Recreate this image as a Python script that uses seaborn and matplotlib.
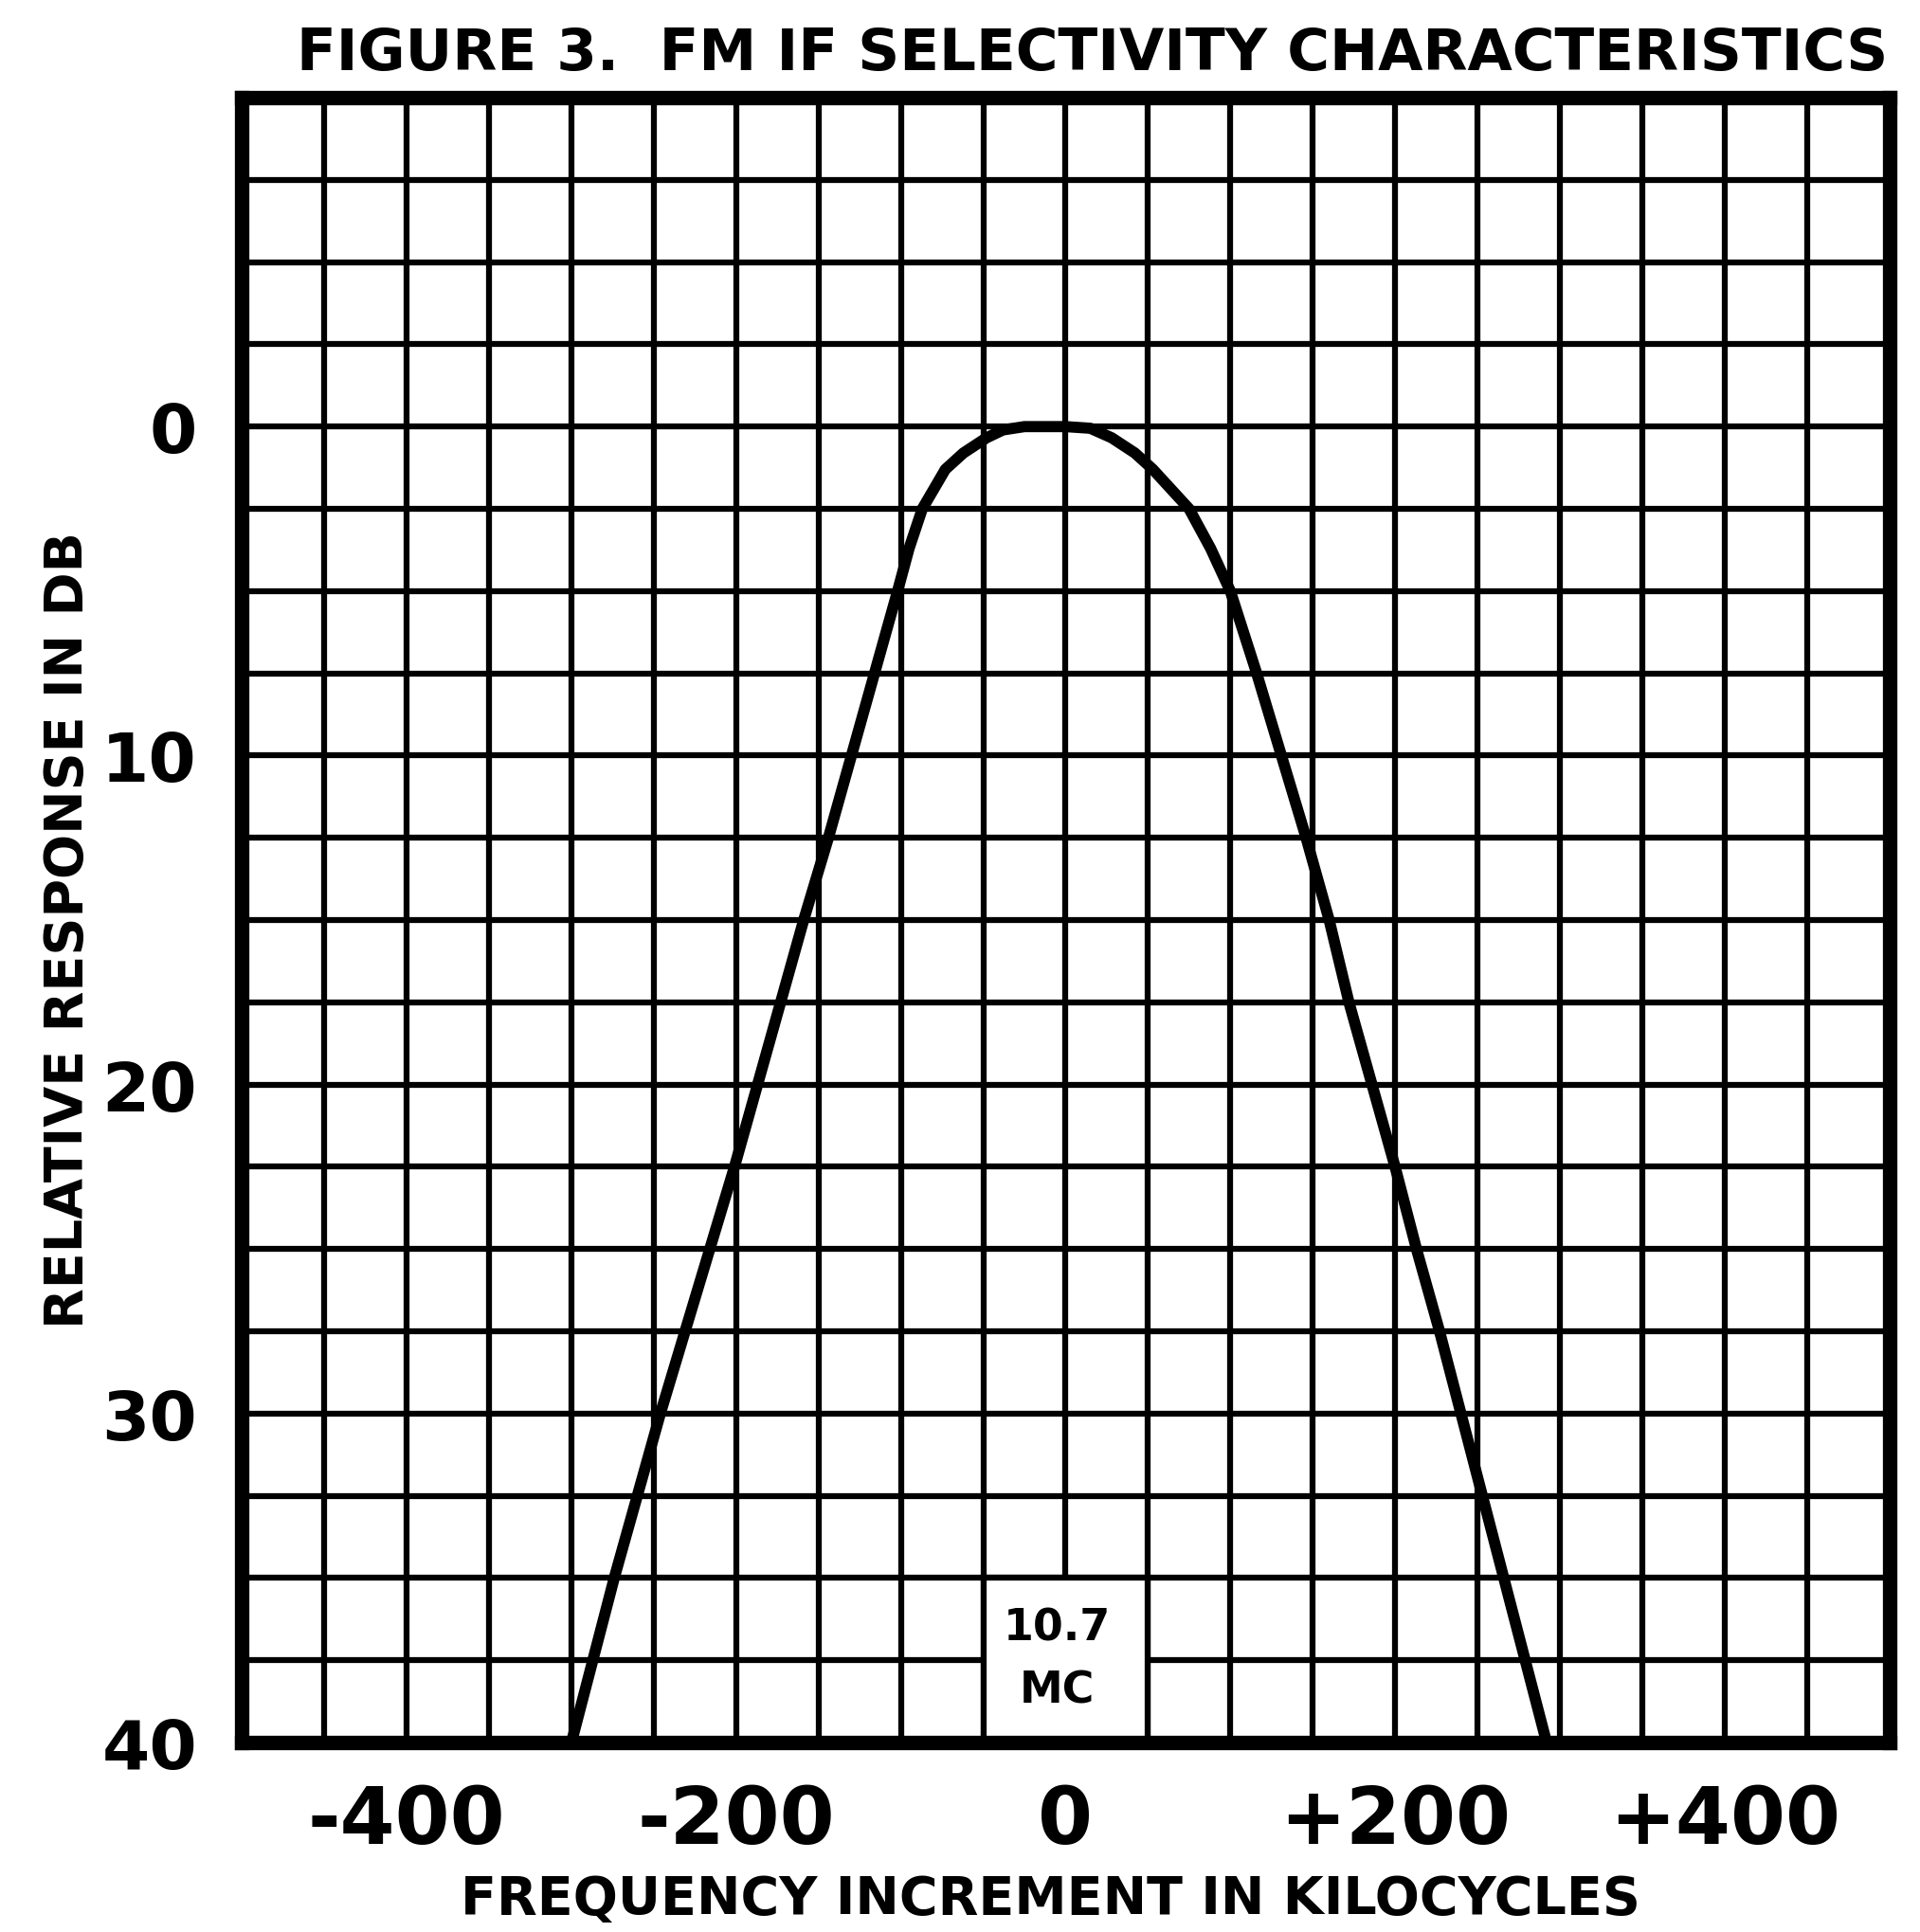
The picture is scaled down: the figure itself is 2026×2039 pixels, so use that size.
import matplotlib
matplotlib.use("Agg")
import matplotlib.pyplot as plt
import seaborn as sns
import pandas as pd
import numpy as np
from matplotlib.patches import Rectangle

# Frequency increment (kc) and relative response (dB)
freq_kc = [-300, -287, -274, -260, -246, -231, -216, -201, -187, -173, -159,
           -144, -130, -116, -102, -95, -87, -73, -62, -48, -38, -25, 0, 15,
           28, 42, 53, 75, 88, 100, 116, 131, 146, 160, 172, 186, 200, 213,
           227, 240, 253, 266, 279, 292]
response_db = [40, 37.5, 35, 32.5, 30, 27.5, 25, 22.5, 20, 17.5, 15,
               12.5, 10, 7.5, 5, 3.7, 2.5, 1.3, 0.8, 0.34, 0.1, 0, 0, 0.05,
               0.34, 0.8, 1.3, 2.5, 3.7, 5, 7.5, 10, 12.5, 15, 17.5, 20, 22.5, 25,
               27.5, 30, 32.5, 35, 37.5, 40]

x_tick_values = [-400, -200, 0, 200, 400]
x_tick_labels = ["-400", "-200", "0", "+200", "+400"]
y_tick_values = [0, 10, 20, 30, 40]
y_tick_labels = ["0", "10", "20", "30", "40"]

title_text = "FIGURE 3.  FM IF SELECTIVITY CHARACTERISTICS"
x_label = "FREQUENCY INCREMENT IN KILOCYCLES"
y_label = "RELATIVE RESPONSE IN DB"
box_lines = ["10.7", "MC"]

sns.set_style("white")
plt.rcParams['font.family'] = ['DejaVu Sans']
plt.rcParams['text.color'] = 'black'
plt.rcParams['xtick.color'] = 'black'
plt.rcParams['ytick.color'] = 'black'

fig = plt.figure(figsize=(20.26, 20.40), dpi=100)
ax = fig.add_axes([0.126, 0.098, 0.858, 0.851])

df = pd.DataFrame({"kc": freq_kc, "db": response_db})
sns.lineplot(data=df, x="kc", y="db", sort=False, color="black", linewidth=8.5,
             ax=ax, zorder=5, solid_joinstyle="round", solid_capstyle="round")

ax.set_xlim(-500, 500)
ax.set_ylim(40, -10)

ax.set_xticks(x_tick_values)
ax.set_xticklabels(x_tick_labels)
ax.set_yticks(y_tick_values)
ax.set_yticklabels(y_tick_labels)
ax.set_xticks(np.arange(-500, 501, 50), minor=True)
ax.set_yticks(np.arange(-10, 40.1, 2.5), minor=True)

ax.set_axisbelow(True)
ax.grid(which="both", color="black", lw=4.5)
ax.tick_params(which="both", length=0)
ax.tick_params(axis="x", labelsize=60, pad=30, labelcolor="black")
ax.tick_params(axis="y", labelsize=52, pad=34, labelcolor="black")
for lab in ax.get_xticklabels() + ax.get_yticklabels():
    lab.set_fontweight("bold")
ax.set_xlabel("")
ax.set_ylabel("")

for s in ax.spines.values():
    s.set_linewidth(11)
    s.set_color("black")
    s.set_visible(True)

ax.add_patch(Rectangle((-50, 35), 100, 5, facecolor="white", edgecolor="black",
                       lw=4.5, zorder=1))
ax.text(-5, 36.5, box_lines[0], ha="center", va="center", fontsize=33,
        fontweight="bold", zorder=2, color="black")
ax.text(-5, 38.4, box_lines[1], ha="center", va="center", fontsize=33,
        fontweight="bold", zorder=2, color="black")

fig.text(0.569, 0.972, title_text, ha="center", va="center", fontsize=44,
         fontweight="bold", color="black")
fig.text(0.547, 0.017, x_label, ha="center", va="center", fontsize=40,
         fontweight="bold", color="black")
fig.text(0.0355, 0.519, y_label, ha="center", va="center", fontsize=40,
         fontweight="bold", rotation=90, color="black")

fig.savefig("out.png", dpi=100, facecolor="white")
